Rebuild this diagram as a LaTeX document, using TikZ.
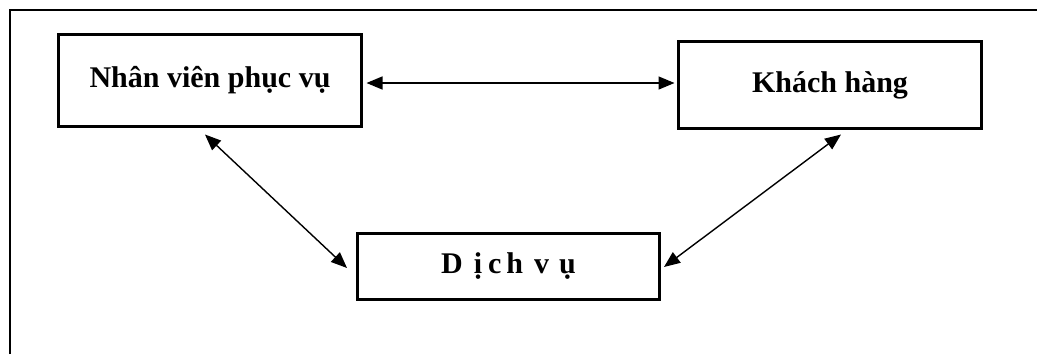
\documentclass[tikz,border=0pt]{standalone}
\usepackage{fontspec}
\setmainfont{Liberation Serif}
\usetikzlibrary{arrows.meta,calc}
\tikzset{
  box/.style={draw, line width=3pt, inner sep=0pt, font=\bfseries\fontsize{30}{36}\selectfont},
  link/.style={line width=1.4pt, {Triangle[length=16pt,width=13pt]}-{Triangle[length=16pt,width=13pt]}},
  frame/.style={line width=1.3pt}
}
\begin{document}
\begin{tikzpicture}[x=1pt,y=-1pt]
\useasboundingbox (0,0) rectangle (1037,354);
\draw[frame] (10,354) -- (10,10) -- (1037,10);
\node[box, minimum width=303pt, minimum height=92pt] (n1) at (210,80.5) {\raisebox{-2pt}{Nhân viên phục vụ}\hspace{16pt}};
\node[box, minimum width=303pt, minimum height=87pt] (n2) at (830,85) {\raisebox{-2pt}{Khách hàng}};
\node[box, minimum width=302pt, minimum height=66pt] (n3) at (508.5,266.5) {D\hspace{11pt}ị\hspace{6pt}c\hspace{5pt}h\hspace{11pt}v\hspace{10pt}ụ};
\draw[link] ($(n1.east)+(3.5,2.5)$) -- ($(n2.west)+(-2.5,-2)$);
\draw[link] ($(n1.south)+(-5,6.5)$) -- ($(n3.west)+(-9,1.5)$);
\draw[link] ($(n2.south)+(11,4.5)$) -- ($(n3.east)+(3,0.5)$);
\end{tikzpicture}
\end{document}
